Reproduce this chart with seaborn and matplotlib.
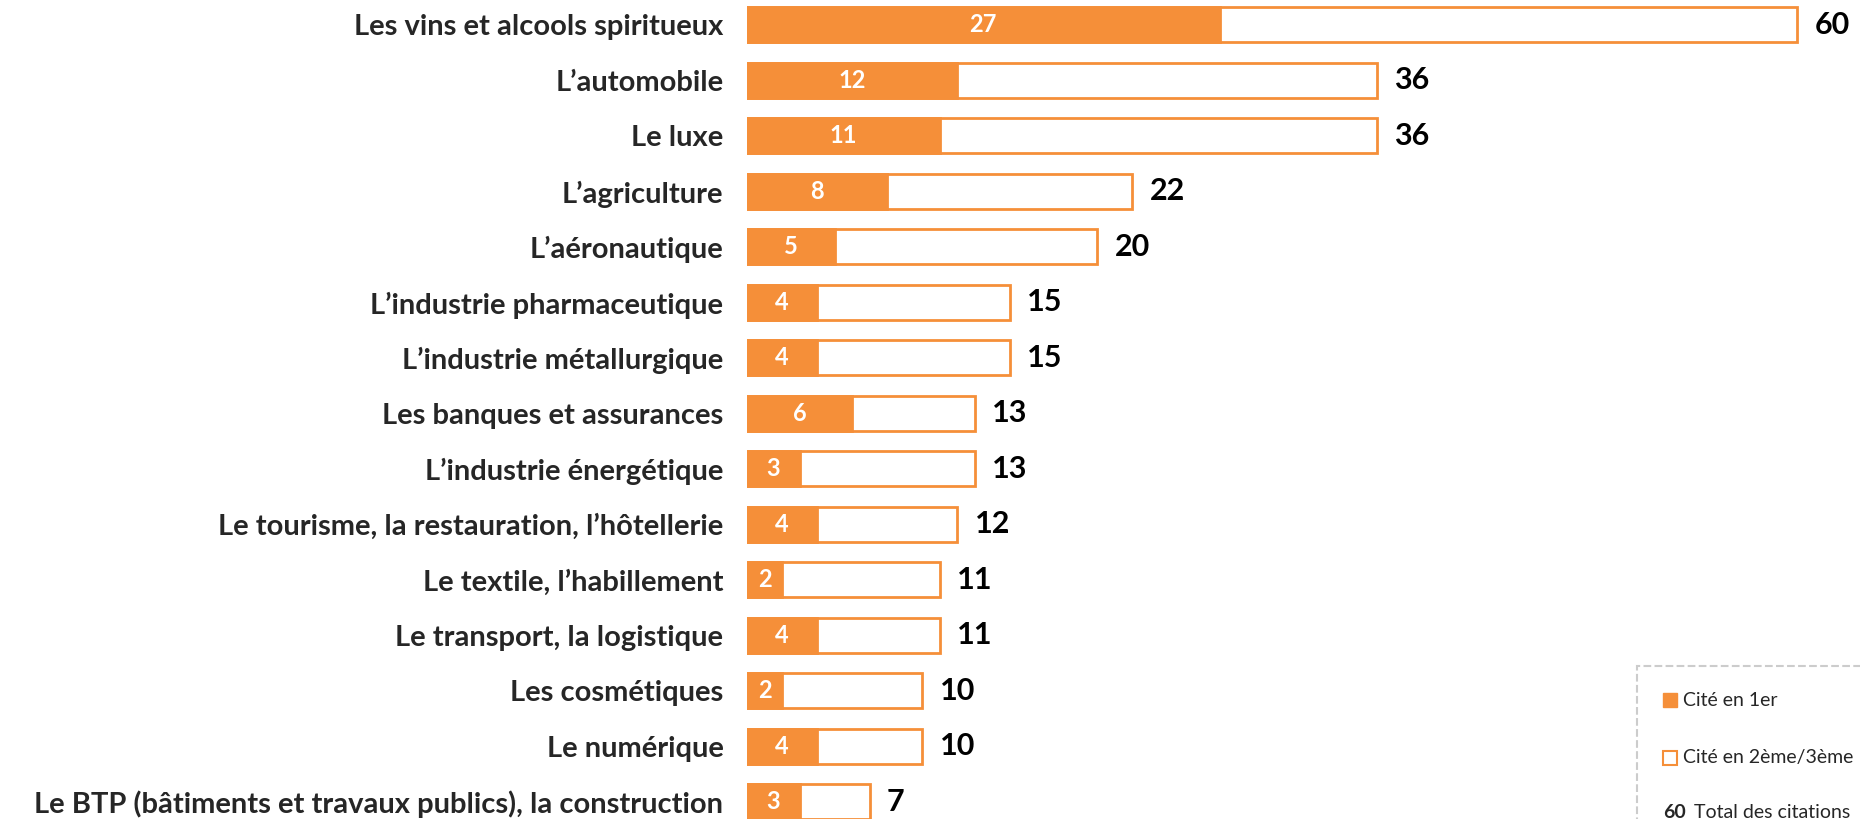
import matplotlib
matplotlib.use("Agg")
import matplotlib.pyplot as plt
import matplotlib.patches as mpatches
import pandas as pd
import seaborn as sns

sectors = [
    "Les vins et alcools spiritueux",
    "L\u2019automobile",
    "Le luxe",
    "L\u2019agriculture",
    "L\u2019aéronautique",
    "L\u2019industrie pharmaceutique",
    "L\u2019industrie métallurgique",
    "Les banques et assurances",
    "L\u2019industrie énergétique",
    "Le tourisme, la restauration, l\u2019hôtellerie",
    "Le textile, l\u2019habillement",
    "Le transport, la logistique",
    "Les cosmétiques",
    "Le numérique",
    "Le BTP (bâtiments et travaux publics), la construction",
]
first_cited = [27, 12, 11, 8, 5, 4, 4, 6, 3, 4, 2, 4, 2, 4, 3]
total_cited = [60, 36, 36, 22, 20, 15, 15, 13, 13, 12, 11, 11, 10, 10, 7]

legend_labels = ["Cité en 1er", "Cité en 2ème/3ème", "Total des citations"]

orange = "#F58F39"

df = pd.DataFrame({"sector": sectors, "first": first_cited, "total": total_cited})

sns.set_style("white")
plt.rcParams["font.family"] = ["Lato", "DejaVu Sans"]

fig = plt.figure(figsize=(18.6, 8.19), dpi=100)
ax = fig.add_axes([747 / 1860, 0, 1 - 747 / 1860, 1])

# total bars: white with orange outline
sns.barplot(data=df, x="total", y="sector", orient="h", ax=ax,
            color="white", edgecolor=orange, linewidth=2, width=0.63)
# first-cited bars: solid orange
sns.barplot(data=df, x="first", y="sector", orient="h", ax=ax,
            color=orange, edgecolor=orange, linewidth=2, width=0.63,
            saturation=1)

ax.set_xlim(0, 63.6)
ax.set_ylim(14.31, -0.45)

for i, (f, t) in enumerate(zip(first_cited, total_cited)):
    ax.text(f / 2, i, str(f), ha="center", va="center", color="white",
            fontsize=17, fontweight="bold")
    ax.text(t + 1.0, i, str(t), ha="left", va="center", color="black",
            fontsize=22, fontweight="bold")

ax.set_xlabel("")
ax.set_ylabel("")
ax.set_xticks([])
ax.tick_params(axis="y", length=0, pad=17, labelsize=21)
for lab in ax.get_yticklabels():
    lab.set_fontweight("bold")
sns.despine(ax=ax, left=True, bottom=True)

# legend box, cut off at the right / bottom
box = mpatches.Rectangle((1637 / 1860, -0.05), 0.2, 1 - 666 / 819 + 0.05,
                         transform=fig.transFigure, facecolor="none",
                         edgecolor="#cccccc", linestyle="--", linewidth=1.5,
                         clip_on=False)
fig.add_artist(box)

sq = 14 / 1860
fig.add_artist(mpatches.Rectangle((1663 / 1860, 1 - 707 / 819), sq, 14 / 819,
                                  transform=fig.transFigure, facecolor=orange,
                                  edgecolor=orange))
fig.add_artist(mpatches.Rectangle((1663 / 1860, 1 - 765 / 819), sq, 14 / 819,
                                  transform=fig.transFigure, facecolor="white",
                                  edgecolor=orange, linewidth=1.5))
fig.text(1683 / 1860, 1 - 700 / 819, legend_labels[0], fontsize=14, va="center")
fig.text(1683 / 1860, 1 - 758 / 819, legend_labels[1], fontsize=14, va="center")
fig.text(1663 / 1860, 1 - 813 / 819, "60", fontsize=14, va="center",
         fontweight="bold")
fig.text(1694 / 1860, 1 - 813 / 819, legend_labels[2], fontsize=14, va="center")

fig.savefig("out.png", dpi=100)
